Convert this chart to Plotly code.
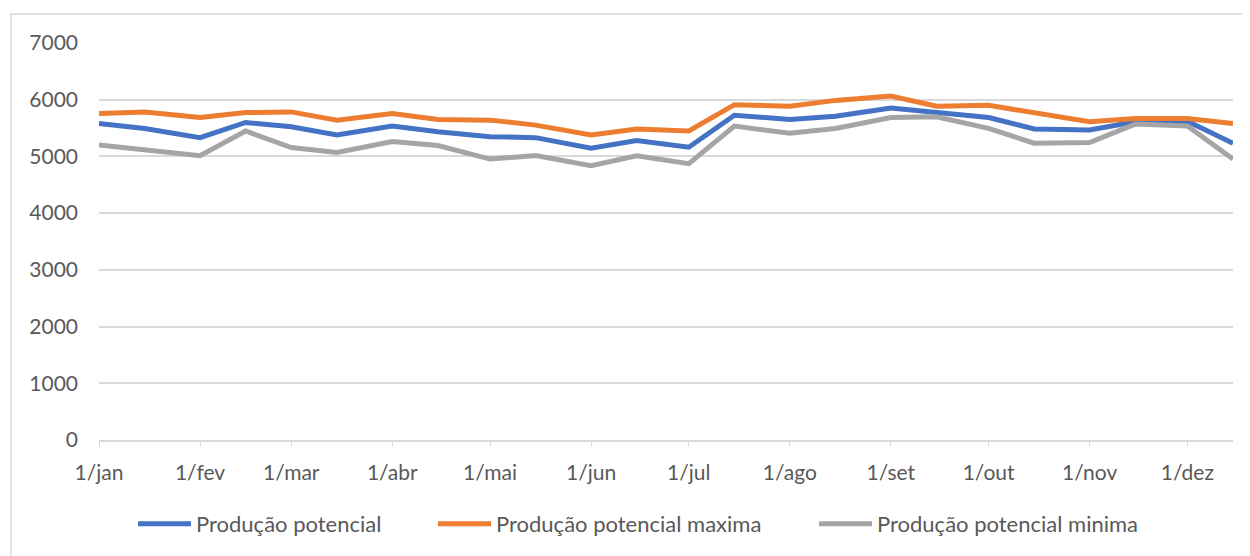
import plotly.graph_objects as go

dates = ["2023-01-01", "2023-01-15", "2023-02-01", "2023-02-15", "2023-03-01", "2023-03-15",
         "2023-04-01", "2023-04-15", "2023-05-01", "2023-05-15", "2023-06-01", "2023-06-15",
         "2023-07-01", "2023-07-15", "2023-08-01", "2023-08-15", "2023-09-01", "2023-09-15",
         "2023-10-01", "2023-10-15", "2023-11-01", "2023-11-15", "2023-12-01", "2023-12-15"]

producao_potencial = [5581, 5494, 5331, 5599, 5523, 5378, 5535, 5436, 5349, 5331, 5145, 5279,
                      5163, 5727, 5651, 5709, 5855, 5785, 5686, 5483, 5465, 5610, 5622, 5233]
producao_maxima = [5756, 5785, 5686, 5773, 5785, 5640, 5756, 5651, 5640, 5552, 5378, 5483,
                   5448, 5913, 5884, 5988, 6064, 5884, 5901, 5773, 5610, 5669, 5669, 5581]
producao_minima = [5203, 5116, 5012, 5448, 5157, 5070, 5262, 5192, 4953, 5017, 4837, 5012,
                   4872, 5535, 5407, 5494, 5686, 5698, 5494, 5233, 5244, 5570, 5535, 4953]

tick_vals = ["2023-01-01", "2023-02-01", "2023-03-01", "2023-04-01", "2023-05-01", "2023-06-01",
             "2023-07-01", "2023-08-01", "2023-09-01", "2023-10-01", "2023-11-01", "2023-12-01"]
tick_text = ["1/jan", "1/fev", "1/mar", "1/abr", "1/mai", "1/jun",
             "1/jul", "1/ago", "1/set", "1/out", "1/nov", "1/dez"]

series = [
    ("Produção potencial", producao_potencial, "#4472C4"),
    ("Produção potencial maxima", producao_maxima, "#ED7D31"),
    ("Produção potencial minima", producao_minima, "#A5A5A5"),
]

# page offset of 8px (body margin) compensated in figure size/margins
W, H = 1242, 548
L, T = 91, 35
PW, PH = 1134, 398
R = W - L - PW
B = H - T - PH

legend_names = ["legend", "legend2", "legend3"]
legend_x_px = [133, 433, 814]  # page x of each legend box start

fig = go.Figure()
for (name, vals, color), lg in zip(series, legend_names):
    fig.add_trace(go.Scatter(x=dates, y=vals, mode="lines", name=name, legend=lg,
                             showlegend=True, line=dict(color=color, width=5)))

font_family = "Lato"
legend_common = dict(orientation="h", y=-0.2085, yanchor="middle", xanchor="left",
                     itemwidth=53, bgcolor="rgba(0,0,0,0)",
                     font=dict(family=font_family, size=22, color="#595959"))
legends = {}
for lg, px in zip(legend_names, legend_x_px):
    legends[lg] = dict(legend_common, x=(px - 99) / PW)

fig.update_layout(
    width=W, height=H,
    showlegend=True,
    margin=dict(l=L, r=R, t=T, b=B, pad=0),
    paper_bgcolor="white", plot_bgcolor="white",
    font=dict(family=font_family, size=21, color="#595959"),
    xaxis=dict(type="date", range=["2023-01-01", "2023-12-15"],
               tickmode="array", tickvals=tick_vals, ticktext=tick_text,
               showgrid=False, showline=True, linecolor="#D9D9D9", linewidth=2,
               ticks="outside", ticklen=5, tickcolor="#D9D9D9", tickwidth=1,
               ticklabelstandoff=8, zeroline=False),
    yaxis=dict(range=[0, 7000], dtick=1000, showgrid=True, gridcolor="#D9D9D9", gridwidth=2,
               zeroline=False, showline=False, ticks="", ticklabelstandoff=20),
    shapes=[dict(type="rect", xref="paper", yref="paper",
                 x0=(11 - 99) / PW, x1=(1300 - 99) / PW,
                 y0=(441 - 600) / PH, y1=(441 - 14) / PH,
                 line=dict(color="#D9D9D9", width=1.5), fillcolor="rgba(0,0,0,0)",
                 layer="below")],
    **legends,
)

fig.write_html("out.html")
